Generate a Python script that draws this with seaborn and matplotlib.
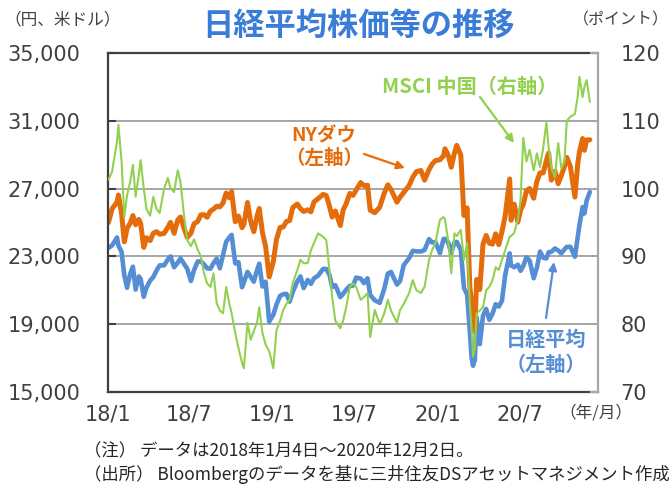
import pandas as pd
import seaborn as sns
import matplotlib.pyplot as plt

# 日付（営業日の一部を抜き出し）
dates_2018 = ['2018-01-04', '2018-01-12', '2018-01-23', '2018-01-26', '2018-02-02', '2018-02-08',
              '2018-02-14', '2018-02-21', '2018-02-27', '2018-03-05', '2018-03-12', '2018-03-16',
              '2018-03-23', '2018-03-29', '2018-04-06', '2018-04-13', '2018-04-20', '2018-04-27',
              '2018-05-07', '2018-05-15', '2018-05-21', '2018-05-29', '2018-06-06', '2018-06-12',
              '2018-06-20', '2018-06-27', '2018-07-05', '2018-07-12', '2018-07-20', '2018-07-27',
              '2018-08-03', '2018-08-10', '2018-08-17', '2018-08-24', '2018-08-31', '2018-09-07',
              '2018-09-14', '2018-09-21', '2018-09-28', '2018-10-03', '2018-10-11', '2018-10-18',
              '2018-10-26', '2018-10-30', '2018-11-07', '2018-11-14', '2018-11-21', '2018-11-28',
              '2018-12-03', '2018-12-10', '2018-12-17', '2018-12-25']
dates_2019 = ['2019-01-03', '2019-01-10', '2019-01-18', '2019-01-25', '2019-02-01', '2019-02-08',
              '2019-02-15', '2019-02-25', '2019-03-04', '2019-03-11', '2019-03-20', '2019-03-27',
              '2019-04-03', '2019-04-12', '2019-04-23', '2019-04-30', '2019-05-07', '2019-05-13',
              '2019-05-20', '2019-05-31', '2019-06-06', '2019-06-13', '2019-06-21', '2019-06-28',
              '2019-07-05', '2019-07-15', '2019-07-22', '2019-07-30', '2019-08-05', '2019-08-15',
              '2019-08-26', '2019-09-05', '2019-09-13', '2019-09-20', '2019-10-03', '2019-10-10',
              '2019-10-18', '2019-10-30', '2019-11-07', '2019-11-15', '2019-11-25', '2019-12-03',
              '2019-12-13', '2019-12-20', '2019-12-27']
dates_2020 = ['2020-01-06', '2020-01-14', '2020-01-17', '2020-01-24', '2020-01-31', '2020-02-07',
              '2020-02-12', '2020-02-21', '2020-02-28', '2020-03-06', '2020-03-12', '2020-03-16',
              '2020-03-19', '2020-03-23', '2020-03-27', '2020-04-03', '2020-04-10', '2020-04-17',
              '2020-04-24', '2020-05-01', '2020-05-08', '2020-05-15', '2020-05-22', '2020-05-29',
              '2020-06-08', '2020-06-11', '2020-06-18', '2020-06-26', '2020-07-02', '2020-07-08',
              '2020-07-15', '2020-07-22', '2020-07-31', '2020-08-07', '2020-08-14', '2020-08-21',
              '2020-08-28', '2020-09-02', '2020-09-08', '2020-09-16', '2020-09-23', '2020-09-30',
              '2020-10-07', '2020-10-12', '2020-10-20', '2020-10-30', '2020-11-05', '2020-11-09',
              '2020-11-16', '2020-11-20', '2020-11-25', '2020-12-02']

# 日経平均（円）
nikkei_2018 = [23500, 23650, 24120, 23630, 23270, 21890, 21150, 21970, 22390, 21040,
               21820, 21680, 20620, 21160, 21570, 21780, 22160, 22470, 22470, 22820,
               23000, 22360, 22630, 22880, 22560, 22270, 21550, 22190, 22700, 22710,
               22530, 22300, 22270, 22600, 22870, 22300, 23090, 23870, 24120, 24270,
               22590, 22660, 21180, 21460, 22090, 21800, 21510, 22180, 22570, 21220,
               21510, 19155]
nikkei_2019 = [19560, 20160, 20670, 20770, 20790, 20330, 20900, 21530, 21820, 21130,
               21610, 21380, 21710, 21870, 22260, 22260, 21920, 21190, 21300, 20600,
               20780, 21030, 21260, 21280, 21750, 21690, 21420, 21710, 20720, 20410,
               20260, 21090, 21990, 22080, 21340, 21550, 22490, 22900, 23330, 23300,
               23290, 23380, 24020, 23820, 23840]
nikkei_2020 = [23200, 24030, 24040, 23830, 23210, 23830, 23860, 23390, 21140, 20750,
               18560, 17000, 16550, 16890, 19390, 17820, 19500, 19900, 19260, 19620,
               20180, 20040, 20390, 21880, 23180, 22470, 22360, 22510, 22150, 22440,
               22950, 22750, 21710, 22330, 23290, 22920, 22880, 23250, 23270, 23470,
               23350, 23180, 23420, 23560, 23570, 22980, 24100, 24840, 25910, 25530,
               26300, 26800]

# NYダウ（米ドル）
nydow_2018 = [25000, 25800, 26210, 26620, 25520, 23860, 24640, 24960, 25410, 24870,
              25180, 24950, 23530, 24100, 23930, 24360, 24460, 24310, 24360, 24710,
              25010, 24360, 25150, 25320, 24660, 24120, 24360, 24920, 25060, 25450,
              25460, 25310, 25670, 25790, 25960, 25920, 26150, 26740, 26460, 26830,
              25050, 25380, 24690, 24880, 26180, 25080, 24460, 25370, 25830, 24420,
              23590, 21790]
nydow_2019 = [22690, 24000, 24710, 24740, 25060, 25110, 25880, 26090, 25820, 25650,
              25750, 25630, 26220, 26410, 26660, 26590, 25970, 25320, 25680, 24820,
              25720, 26110, 26720, 26600, 26920, 27360, 27170, 27200, 25720, 25580,
              25900, 26730, 27220, 26940, 26200, 26500, 26770, 27190, 27670, 28000,
              28070, 27500, 28130, 28450, 28650]
nydow_2020 = [28700, 28940, 29350, 28990, 28260, 29100, 29550, 28990, 25410, 25860,
              21200, 20190, 19900, 18590, 21640, 21050, 23720, 24240, 23780, 23720,
              24330, 23690, 24470, 25380, 27570, 25130, 26080, 25020, 25730, 26070,
              26870, 27010, 26430, 27430, 27930, 27930, 28650, 29100, 27500, 28030,
              27290, 27780, 28300, 28840, 28310, 26500, 28390, 29160, 29950, 29260,
              29870, 29880]

# MSCI 中国（ポイント）
msci_2018 = [101.3, 102.5, 107.0, 109.4, 104.0, 95.8, 99.0, 101.0, 103.5, 98.8,
             102.0, 104.2, 100.0, 97.0, 96.0, 98.8, 97.0, 96.4, 100.0, 101.6,
             100.0, 99.5, 102.7, 101.0, 96.0, 92.4, 91.5, 92.5, 91.0, 90.0,
             87.5, 86.0, 85.5, 87.5, 83.1, 82.0, 81.6, 85.5, 83.0, 81.6,
             78.7, 76.5, 74.3, 73.5, 80.2, 77.7, 79.0, 80.2, 82.5, 78.7,
             77.0, 76.0]
msci_2019 = [73.5, 79.1, 80.5, 82.1, 83.0, 83.6, 86.1, 88.0, 89.5, 89.0,
             89.0, 90.9, 92.0, 93.4, 92.9, 92.4, 88.0, 84.0, 80.5, 79.4,
             80.5, 82.5, 85.5, 86.0, 85.5, 83.6, 84.0, 84.6, 78.1, 82.1,
             80.0, 81.6, 83.6, 82.0, 80.2, 82.1, 83.0, 84.6, 86.5, 85.0,
             84.6, 85.5, 89.5, 91.0, 92.0]
msci_2020 = [95.4, 95.8, 95.5, 92.4, 87.5, 93.4, 93.0, 93.9, 89.5, 92.0,
             83.0, 79.1, 75.2, 76.5, 81.6, 82.0, 82.5, 85.0, 85.5, 86.5,
             88.4, 88.0, 89.5, 90.9, 92.9, 93.0, 93.5, 95.4, 98.3, 107.5,
             104.0, 105.7, 102.7, 105.2, 103.2, 106.0, 109.7, 106.1, 103.0, 101.7,
             106.7, 103.0, 104.0, 110.0, 110.6, 111.0, 113.5, 116.5, 113.5, 115.0,
             116.0, 112.8]

tick_dates = ['2018-01-03', '2018-07-01', '2019-01-01', '2019-07-01', '2020-01-01', '2020-07-01']
tick_labels = ['18/1', '18/7', '19/1', '19/7', '20/1', '20/7']
left_ticks = [15000, 19000, 23000, 27000, 31000, 35000]
right_ticks = [70, 80, 90, 100, 110, 120]

df = pd.DataFrame({
    'date': pd.to_datetime(dates_2018 + dates_2019 + dates_2020),
    'nikkei': nikkei_2018 + nikkei_2019 + nikkei_2020,
    'nydow': nydow_2018 + nydow_2019 + nydow_2020,
    'msci': msci_2018 + msci_2019 + msci_2020,
})

BLUE = '#558ED5'
ORANGE = '#E46C0A'
GREEN = '#92D050'
JP = ['Noto Sans CJK JP', 'DejaVu Sans']

sns.set_theme(style='white')
plt.rcParams['font.family'] = ['DejaVu Sans', 'Noto Sans CJK JP']

fig = plt.figure(figsize=(6.72, 4.86), dpi=100)
ax = fig.add_axes([108 / 672, 1 - 392 / 486, 490 / 672, 339 / 486])
ax2 = ax.twinx()

sns.lineplot(data=df, x='date', y='nikkei', ax=ax, color=BLUE, linewidth=3.3)
sns.lineplot(data=df, x='date', y='nydow', ax=ax, color=ORANGE, linewidth=3.6)
sns.lineplot(data=df, x='date', y='msci', ax=ax2, color=GREEN, linewidth=1.5)

ax.set_xlim(pd.Timestamp('2018-01-03'), pd.Timestamp('2020-12-20'))
ax.set_ylim(15000, 35000)
ax2.set_ylim(70, 120)
ax.set_yticks(left_ticks)
ax.set_yticklabels([f'{v:,}' for v in left_ticks])
ax2.set_yticks(right_ticks)
ax2.set_yticklabels([str(v) for v in right_ticks])
ax.set_xticks(pd.to_datetime(tick_dates))
ax.set_xticklabels(tick_labels)
ax.set_xlabel('')
ax.set_ylabel('')
ax2.set_ylabel('')

ax.grid(axis='y', color='#A6A6A6', linewidth=1.4)
ax.grid(axis='x', visible=False)
ax.set_axisbelow(True)

for name in ['left', 'bottom', 'top']:
    ax.spines[name].set_color('#404040')
    ax.spines[name].set_linewidth(1.6)
ax.spines['right'].set_visible(False)
for name in ['left', 'bottom', 'top']:
    ax2.spines[name].set_visible(False)
ax2.spines['right'].set_color('#A6A6A6')
ax2.spines['right'].set_linewidth(1.6)

ax.tick_params(axis='y', direction='in', length=6, width=1.5, color='#404040',
               pad=20, labelsize=15, labelcolor='#404040')
ax.tick_params(axis='x', direction='in', length=6, width=1.5, color='#404040',
               pad=9, labelsize=15, labelcolor='#404040')
ax2.tick_params(axis='y', direction='in', length=6, width=1.5, color='#A6A6A6',
                pad=16, labelsize=15, labelcolor='#404040')


def fx(x):
    return x / 672


def fy(y):
    return 1 - y / 486


fig.text(fx(358), fy(26), '日経平均株価等の推移', ha='center', va='center',
         fontsize=22.5, fontweight='bold', color='#3A7DD8', family=JP)
fig.text(fx(4), fy(20), '（円、米ドル）', ha='left', va='center',
         fontsize=12, color='#404040', family=JP)
fig.text(fx(669), fy(20), '（ポイント）', ha='right', va='center',
         fontsize=11.5, color='#404040', family=JP)
fig.text(fx(596), fy(413), '（年/月）', ha='center', va='center',
         fontsize=12, color='#404040', family=JP)
fig.text(fx(84), fy(451), '（注） データは2018年1月4日～2020年12月2日。', ha='left', va='center',
         fontsize=12.5, color='#262626', family=JP)
fig.text(fx(84), fy(474), '（出所） Bloombergのデータを基に三井住友DSアセットマネジメント作成',
         ha='left', va='center', fontsize=12.5, color='#262626', family=JP)

fig.text(fx(324), fy(147), 'NYダウ\n（左軸）', ha='center', va='center', fontsize=14,
         fontweight='bold', color=ORANGE, family=JP, linespacing=1.25)
fig.text(fx(470), fy(86), 'MSCI 中国（右軸）', ha='center', va='center', fontsize=14.5,
         fontweight='bold', color=GREEN, family=JP)
fig.text(fx(546), fy(352), '日経平均\n（左軸）', ha='center', va='center', fontsize=14.5,
         fontweight='bold', color=BLUE, family=JP, linespacing=1.25)

arrow_kw = dict(arrowstyle='-|>', lw=1.6, mutation_scale=12, shrinkA=0, shrinkB=0)
fig.add_artist(plt.matplotlib.patches.FancyArrowPatch(
    (fx(364), fy(154)), (fx(405), fy(168)), transform=fig.transFigure, color=ORANGE, **arrow_kw))
fig.add_artist(plt.matplotlib.patches.FancyArrowPatch(
    (fx(480), fy(97)), (fx(514), fy(143)), transform=fig.transFigure, color=GREEN, **arrow_kw))
fig.add_artist(plt.matplotlib.patches.FancyArrowPatch(
    (fx(546), fy(318)), (fx(554), fy(262)), transform=fig.transFigure, color=BLUE, **arrow_kw))

fig.savefig('out.png', dpi=100)
